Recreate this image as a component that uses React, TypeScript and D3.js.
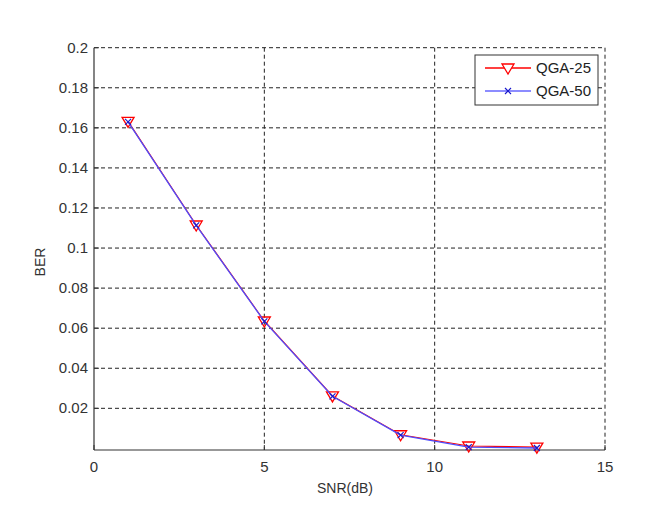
import React from 'react'
import { scaleLinear, line } from 'd3'

const snr = [1, 3, 5, 7, 9, 11, 13]
const qga25 = [0.1632, 0.1115, 0.0636, 0.0262, 0.0068, 0.0012, 0.0006]
const qga50 = [0.1630, 0.1113, 0.0634, 0.0260, 0.0066, 0.0006, 0.0002]
const xTicks = [0, 5, 10, 15]
const yTicks = [0.02, 0.04, 0.06, 0.08, 0.1, 0.12, 0.14, 0.16, 0.18, 0.2]

export default () => {
  const left = 94
  const right = 605
  const top = 47.7
  const bottom = 450
  const x = scaleLinear().domain([0, 15]).range([left, right])
  const y = scaleLinear().domain([-0.0008, 0.2]).range([bottom, top])
  const font = 'Liberation Sans, Arial, sans-serif'

  const mk = (vals: number[]) =>
    line<number>()
      .x((_, i) => x(snr[i]))
      .y(d => y(d))(vals) as string

  const tri = (cx: number, cy: number) =>
    `M${cx - 6},${cy - 4} L${cx + 6},${cy - 4} L${cx},${cy + 6} Z`
  const cross = (cx: number, cy: number) =>
    `M${cx - 3},${cy - 3} L${cx + 3},${cy + 3} M${cx - 3},${cy + 3} L${cx + 3},${cy - 3}`

  return (
    <svg
      width={654}
      height={514}
      style={{ position: 'absolute', left: 0, top: 0, background: '#fff' }}
      fontFamily={font}
    >
      {/* grid */}
      {yTicks.map(t => (
        <line key={'gy' + t} x1={left} x2={right} y1={y(t)} y2={y(t)}
          stroke="#222" strokeWidth={1} strokeDasharray="4,3" />
      ))}
      {xTicks.slice(1).map(t => (
        <line key={'gx' + t} x1={x(t)} x2={x(t)} y1={top} y2={bottom}
          stroke="#222" strokeWidth={1} strokeDasharray="4,3" />
      ))}
      {/* axes */}
      <line x1={left} x2={left} y1={top} y2={bottom} stroke="#333" strokeWidth={1.2} />
      <line x1={left} x2={right} y1={bottom} y2={bottom} stroke="#333" strokeWidth={1.2} />
      {yTicks.map(t => (
        <g key={'ty' + t}>
          <line x1={left} x2={left + 5} y1={y(t)} y2={y(t)} stroke="#333" />
          <text x={left - 6} y={y(t) + 5} textAnchor="end" fontSize={15} fill="#333">
            {String(t)}
          </text>
        </g>
      ))}
      {xTicks.map(t => (
        <g key={'tx' + t}>
          <line x1={x(t)} x2={x(t)} y1={bottom} y2={bottom - 5} stroke="#333" />
          <text x={x(t)} y={bottom + 22} textAnchor="middle" fontSize={15} fill="#333">
            {t}
          </text>
        </g>
      ))}
      <text x={345} y={493} textAnchor="middle" fontSize={14} fill="#333">SNR(dB)</text>
      <text transform="translate(45,262) rotate(-90)" textAnchor="middle" fontSize={14} fill="#333">BER</text>

      {/* series */}
      <path d={mk(qga25)} fill="none" stroke="#ff0000" strokeWidth={1.2} />
      {qga25.map((v, i) => (
        <path key={'m25' + i} d={tri(x(snr[i]), y(v))} fill="none" stroke="#ff0000" strokeWidth={1.3} />
      ))}
      <path d={mk(qga50)} fill="none" stroke="#4d4dff" strokeWidth={1.3} />
      {qga50.map((v, i) => (
        <path key={'m50' + i} d={cross(x(snr[i]), y(v))} fill="none" stroke="#1a1acc" strokeWidth={1.2} />
      ))}

      {/* legend */}
      <rect x={475} y={55} width={123} height={50} fill="#fff" stroke="#333" strokeWidth={1} />
      <line x1={485} x2={531} y1={68} y2={68} stroke="#ff0000" strokeWidth={1.3} />
      <path d={tri(508, 68)} fill="#fff" stroke="#ff0000" strokeWidth={1.3} />
      <text x={536} y={73} fontSize={15} fill="#222">QGA-25</text>
      <line x1={485} x2={531} y1={91} y2={91} stroke="#6666ff" strokeWidth={1.3} />
      <path d={cross(508, 91)} fill="none" stroke="#1a1acc" strokeWidth={1.2} />
      <text x={536} y={96} fontSize={15} fill="#222">QGA-50</text>
    </svg>
  )
}
